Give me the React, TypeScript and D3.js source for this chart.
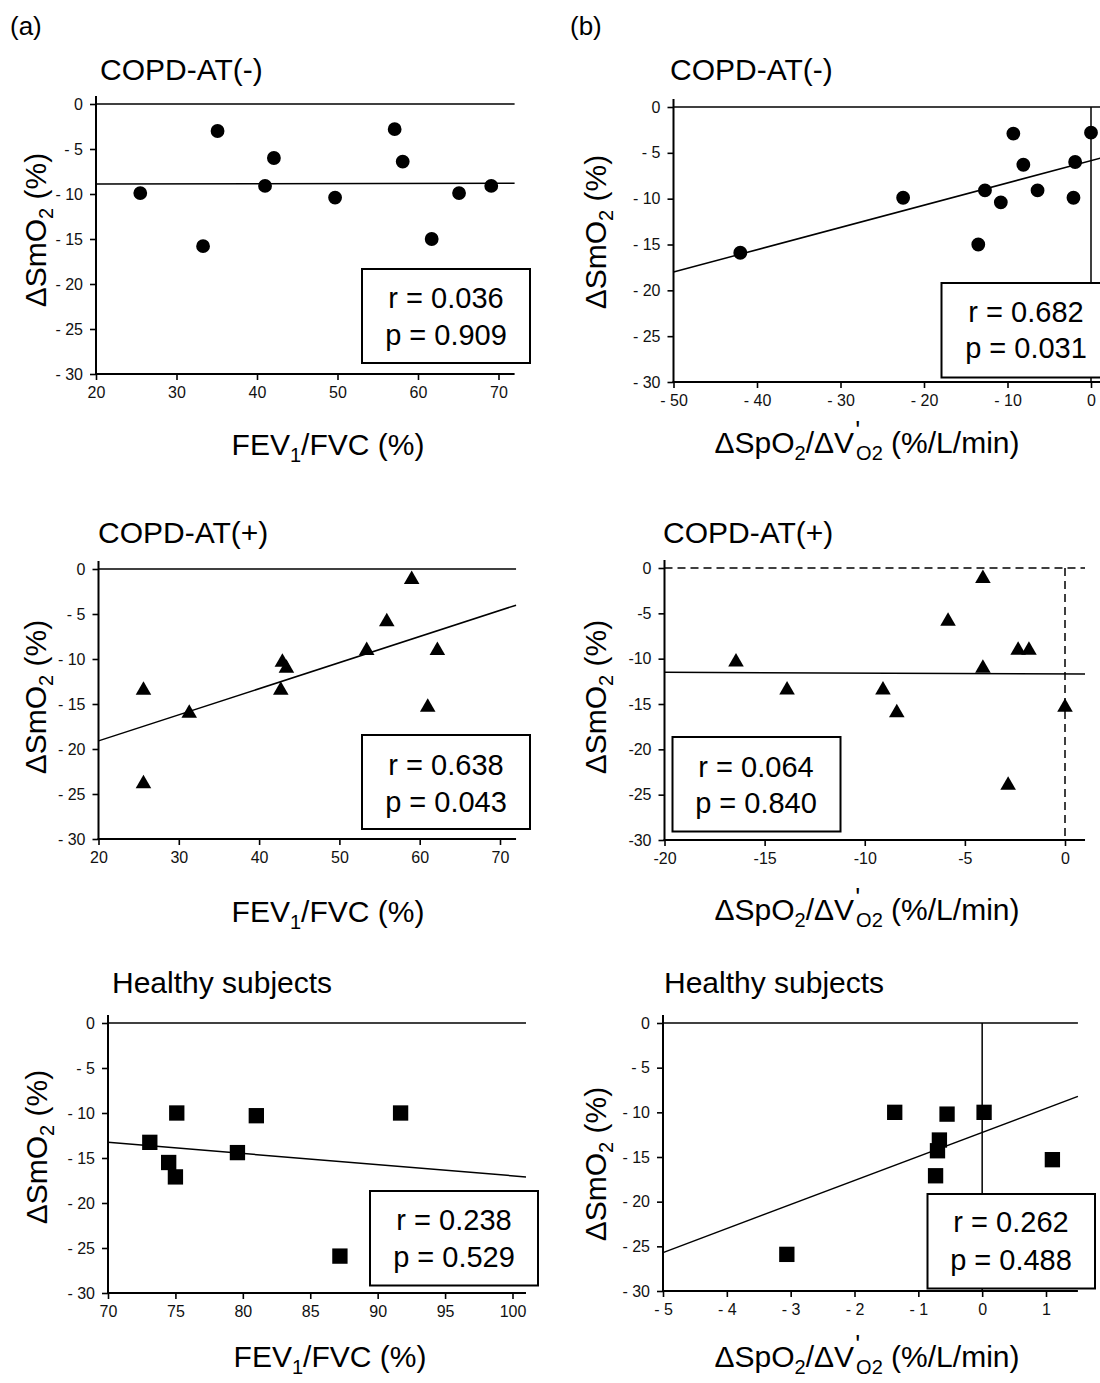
// Six-panel scatter figure: ΔSmO2 vs FEV1/FVC (a) and vs ΔSpO2/ΔV'O2 (b)
import React, { useRef, useEffect } from 'react';
import * as d3 from 'd3';

// ---- data ----
// (a) COPD-AT(-)
const negFev = [25.5, 33.3, 35.1, 41.0, 42.1, 49.7, 57.1, 58.1, 61.7, 65.1, 69.1];
const negSmoA = [-9.9, -15.8, -3.0, -9.1, -6.0, -10.4, -2.8, -6.4, -15.0, -9.9, -9.1];
// (b) COPD-AT(-)
const negSpo = [-42.0, -22.5, -13.5, -12.7, -10.8, -9.3, -8.1, -6.4, -1.9, -2.1, 0.0];
const negSmoB = [-15.9, -9.9, -15.0, -9.1, -10.4, -2.9, -6.3, -9.1, -6.0, -9.9, -2.8];
// (a) COPD-AT(+)
const posFev = [25.6, 25.6, 31.3, 42.9, 43.4, 42.7, 53.4, 55.9, 59.0, 62.2, 61.0];
const posSmoA = [-13.3, -23.7, -15.85, -10.2, -10.85, -13.3, -8.9, -5.7, -1.0, -8.9, -15.2];
// (b) COPD-AT(+)
const posSpo = [-16.43, -13.88, -9.09, -8.4, -5.84, -4.1, -4.1, -2.34, -1.8, -2.84, 0.0];
const posSmoB = [-10.2, -13.3, -13.3, -15.8, -5.7, -1.0, -10.9, -8.9, -8.9, -23.8, -15.2];
// (a) Healthy subjects
const hFev = [73.1, 74.5, 75.0, 75.1, 79.6, 81.0, 91.7, 87.2];
const hSmoA = [-13.26, -15.5, -17.1, -10.0, -14.4, -10.3, -10.0, -25.9];
// (b) Healthy subjects
const hSpo = [-1.37, -0.55, 0.03, -0.67, -0.70, -0.73, 1.10, -3.06];
const hSmoB = [-10.0, -10.2, -10.0, -13.1, -14.3, -17.1, -15.3, -25.9];

// regression lines: [slope, intercept]
const fitNegA = [0.0019, -8.94];
const fitNegB = [0.243, -5.85];
const fitPosA = [0.29, -24.9];
const fitPosB = [-0.0095, -11.69];
const fitHA = [-0.124, -4.58];
const fitHB = [2.69, -12.25];

// statistics
const rVals = ['0.036', '0.682', '0.638', '0.064', '0.238', '0.262'];
const pVals = ['0.909', '0.031', '0.043', '0.840', '0.529', '0.488'];

// tick values
const yTicks = [0, -5, -10, -15, -20, -25, -30];
const fevCopdTicks = [20, 30, 40, 50, 60, 70];
const spoNegTicks = [-50, -40, -30, -20, -10, 0];
const spoPosTicks = [-20, -15, -10, -5, 0];
const fevHTicks = [70, 75, 80, 85, 90, 95, 100];
const spoHTicks = [-5, -4, -3, -2, -1, 0, 1];

const titles = ['COPD-AT(-)', 'COPD-AT(-)', 'COPD-AT(+)', 'COPD-AT(+)', 'Healthy subjects', 'Healthy subjects'];

// ---- layout for each panel ----
const panels = [
  { xs: negFev, ys: negSmoA, fit: fitNegA, shape: 'circle', xTicks: fevCopdTicks, xDomain: [20, 70], xRange: [96, 498.5], xEnd: 72,
    yTop: 104, yBot: 374, spaced: true, label: 'fev', titleX: 100, titleY: 80, xlX: 328, xlY: 455, ylX: 46, ylY: 230,
    box: [362, 269, 168, 94], statX: 446, statY: [308, 345], vZero: false, dashed: false },
  { xs: negSpo, ys: negSmoB, fit: fitNegB, shape: 'circle', xTicks: spoNegTicks, xDomain: [-50, 0], xRange: [673.5, 1091], xEnd: 1.5,
    yTop: 107, yBot: 382, spaced: true, label: 'spo', titleX: 670, titleY: 80, xlX: 867, xlY: 453, ylX: 606, ylY: 232,
    box: [941.5, 283, 170, 94.5], statX: 1026, statY: [322, 358], vZero: true, dashed: false },
  { xs: posFev, ys: posSmoA, fit: fitPosA, shape: 'triangle', xTicks: fevCopdTicks, xDomain: [20, 70], xRange: [98.5, 500], xEnd: 72,
    yTop: 569, yBot: 839, spaced: true, label: 'fev', titleX: 98, titleY: 543, xlX: 328, xlY: 922, ylX: 46, ylY: 697,
    box: [362, 735, 168, 94], statX: 446, statY: [775, 812], vZero: false, dashed: false },
  { xs: posSpo, ys: posSmoB, fit: fitPosB, shape: 'triangle', xTicks: spoPosTicks, xDomain: [-20, 0], xRange: [664.5, 1065], xEnd: 1.0,
    yTop: 568, yBot: 840, spaced: false, label: 'spo', titleX: 663, titleY: 543, xlX: 867, xlY: 920, ylX: 606, ylY: 697,
    box: [672.5, 737, 168, 94.5], statX: 756, statY: [777, 813], vZero: true, dashed: true },
  { xs: hFev, ys: hSmoA, fit: fitHA, shape: 'square', xTicks: fevHTicks, xDomain: [70, 100], xRange: [108, 512.5], xEnd: 101,
    yTop: 1023, yBot: 1293, spaced: true, label: 'fev', titleX: 112, titleY: 993, xlX: 330, xlY: 1367, ylX: 47, ylY: 1147,
    box: [370, 1191, 168, 94.5], statX: 454, statY: [1230, 1267], vZero: false, dashed: false },
  { xs: hSpo, ys: hSmoB, fit: fitHB, shape: 'square', xTicks: spoHTicks, xDomain: [-5, 1], xRange: [663, 1046], xEnd: 1.5,
    yTop: 1023, yBot: 1291, spaced: true, label: 'spo', titleX: 664, titleY: 993, xlX: 867, xlY: 1367, ylX: 606, ylY: 1164,
    box: [927.5, 1194, 167.5, 94.5], statX: 1011, statY: [1232, 1270], vZero: true, dashed: false },
];

const FONT = '"Liberation Sans", Arial, Helvetica, sans-serif';

const App = () => {
  const ref = useRef<SVGSVGElement>(null);

  useEffect(() => {
    const svg = d3.select(ref.current);
    svg.selectAll('*').remove();
    svg.attr('font-family', FONT);

    // panel letters
    svg.append('text').attr('x', 10).attr('y', 35).attr('font-size', 26).text('(a)');
    svg.append('text').attr('x', 570).attr('y', 35).attr('font-size', 26).text('(b)');

    panels.forEach((p, k) => {
      const g = svg.append('g');
      const x = d3.scaleLinear().domain(p.xDomain).range(p.xRange);
      const y = d3.scaleLinear().domain([-30, 0]).range([p.yBot, p.yTop]);
      const xMin = p.xDomain[0];
      const fmt = (v: number) => (v < 0 ? (p.spaced ? `- ${Math.abs(v)}` : `-${Math.abs(v)}`) : `${v}`);

      // title
      g.append('text').attr('x', p.titleX).attr('y', p.titleY).attr('font-size', 30).text(titles[k]);

      // reference lines at zero
      const ref0 = g.append('g').attr('stroke', '#000').attr('stroke-width', 1.5)
        .attr('stroke-dasharray', p.dashed ? '8,5' : null);
      ref0.append('line').attr('x1', x(xMin)).attr('x2', x(p.xEnd)).attr('y1', y(0)).attr('y2', y(0));
      if (p.vZero) ref0.append('line').attr('x1', x(0)).attr('x2', x(0)).attr('y1', y(0)).attr('y2', y(-30));

      // regression line
      const line = d3.line<number>().x(d => x(d)).y(d => y(p.fit[1] + p.fit[0] * d));
      g.append('path').datum([xMin, p.xEnd]).attr('d', line)
        .attr('fill', 'none').attr('stroke', '#000').attr('stroke-width', 1.5);

      // points
      const type = p.shape === 'circle' ? d3.symbolCircle : p.shape === 'triangle' ? d3.symbolTriangle : d3.symbolSquare;
      const size = p.shape === 'circle' ? 150 : p.shape === 'triangle' ? 105 : 235;
      const sym = d3.symbol().type(type).size(size);
      g.selectAll('path.pt').data(d3.range(p.xs.length)).enter().append('path')
        .attr('class', 'pt')
        .attr('transform', i => `translate(${x(p.xs[i])},${y(p.ys[i]) + (p.shape === 'triangle' ? 1.5 : 0)})`)
        .attr('d', sym as any)
        .attr('fill', '#000');

      // stats box
      const [bx, by, bw, bh] = p.box;
      g.append('rect').attr('x', bx).attr('y', by).attr('width', bw).attr('height', bh)
        .attr('fill', '#fff').attr('stroke', '#000').attr('stroke-width', 2);
      g.append('text').attr('x', p.statX).attr('y', p.statY[0]).attr('text-anchor', 'middle').attr('font-size', 29)
        .text(`r = ${rVals[k]}`);
      g.append('text').attr('x', p.statX).attr('y', p.statY[1]).attr('text-anchor', 'middle').attr('font-size', 29)
        .text(`p = ${pVals[k]}`);

      // x axis
      const gx = g.append('g').attr('transform', `translate(0,${y(-30)})`)
        .call(d3.axisBottom(x).tickValues(p.xTicks).tickSize(6).tickSizeOuter(0).tickPadding(7).tickFormat(fmt as any));
      gx.select('.domain').remove();
      gx.append('line').attr('x1', x(xMin) - 1).attr('x2', x(p.xEnd)).attr('stroke', '#000').attr('stroke-width', 2);
      gx.selectAll('.tick line').attr('stroke', '#000').attr('stroke-width', 1.6);
      gx.selectAll('.tick text').attr('font-size', 16).attr('font-family', FONT).attr('fill', '#111');

      // y axis
      const gy = g.append('g').attr('transform', `translate(${x(xMin)},0)`)
        .call(d3.axisLeft(y).tickValues(yTicks).tickSize(6).tickSizeOuter(0).tickPadding(7).tickFormat(fmt as any));
      gy.select('.domain').remove();
      gy.append('line').attr('y1', y(0) - 8).attr('y2', y(-30) + 1).attr('stroke', '#000').attr('stroke-width', 2);
      gy.selectAll('.tick line').attr('stroke', '#000').attr('stroke-width', 1.6);
      gy.selectAll('.tick text').attr('font-size', 16).attr('font-family', FONT).attr('fill', '#111');

      // y label
      const yl = g.append('text').attr('transform', `translate(${p.ylX},${p.ylY}) rotate(-90)`)
        .attr('text-anchor', 'middle').attr('font-size', 30);
      yl.append('tspan').text('ΔSmO');
      yl.append('tspan').attr('font-size', 20).attr('dy', 7).text('2');
      yl.append('tspan').attr('dy', -7).text(' (%)');

      // x label
      const xl = g.append('text').attr('x', p.xlX).attr('y', p.xlY).attr('text-anchor', 'middle').attr('font-size', 30);
      if (p.label === 'fev') {
        xl.append('tspan').text('FEV');
        xl.append('tspan').attr('font-size', 20).attr('dy', 7).text('1');
        xl.append('tspan').attr('dy', -7).text('/FVC (%)');
      } else {
        xl.append('tspan').text('ΔSpO');
        xl.append('tspan').attr('font-size', 20).attr('dy', 7).text('2');
        xl.append('tspan').attr('dy', -7).text('/ΔV');
        xl.append('tspan').attr('font-size', 26).attr('dx', 1).attr('dy', -14).text("'");
        xl.append('tspan').attr('font-size', 20).attr('dx', -4).attr('dy', 21).text('O2');
        xl.append('tspan').attr('dy', -7).text(' (%/L/min)');
      }
    });
  }, []);

  return (
    <svg ref={ref} width={1100} height={1383}
      style={{ position: 'absolute', left: 0, top: 0, background: '#fff' }} />
  );
};

export default App;
